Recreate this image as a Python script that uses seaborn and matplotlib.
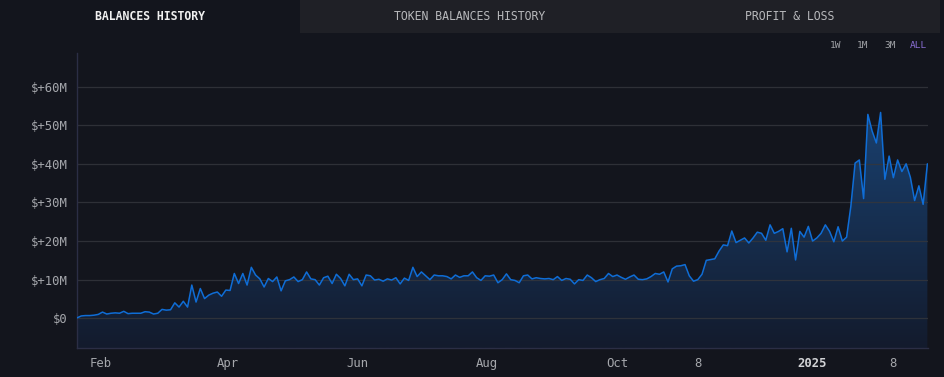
import numpy as np
import pandas as pd
import matplotlib
matplotlib.use('Agg')
import matplotlib.pyplot as plt
from matplotlib.colors import LinearSegmentedColormap
from matplotlib.patches import Rectangle
import seaborn as sns

# Balance in $M, one reading every 2 days starting 2024-01-21
start_date = '2024-01-21'
bal_jan_mar = [0.1, 0.6, 0.7, 0.7, 0.8, 1.0, 1.6, 1.1, 1.3, 1.4,
               1.3, 1.8, 1.2, 1.3, 1.3, 1.3, 1.7, 1.6, 1.1, 1.3,
               2.3, 2.1, 2.2, 4.0, 2.9, 4.4, 2.9, 8.6, 4.2, 7.7]
bal_mar_may = [5.1, 6.0, 6.5, 6.8, 5.7, 7.3, 7.2, 11.6, 9.0, 11.6,
               8.6, 13.2, 11.2, 10.2, 8.1, 10.3, 9.5, 10.7, 7.1, 9.7,
               10.0, 10.7, 9.5, 10.0, 12.0, 10.2, 10.0, 8.6, 10.5, 10.9,
               9.0, 11.4, 10.3, 8.4, 11.4, 10.0]
bal_jun_aug = [10.2, 8.4, 11.2, 11.0, 9.9, 10.1, 9.6, 10.2, 9.9, 10.5,
               8.9, 10.4, 9.8, 13.2, 10.8, 12.0, 11.0, 10.0, 11.2, 11.0,
               11.0, 10.8, 10.2, 11.2, 10.6, 11.0, 11.0, 12.0, 10.5, 9.8,
               11.0, 10.9, 11.2, 9.2, 10.0]
bal_aug_nov = [11.5, 10.0, 9.8, 9.2, 11.0, 11.2, 10.2, 10.5, 10.3, 10.2,
               10.3, 10.0, 10.8, 9.8, 10.3, 10.1, 8.9, 10.0, 9.8, 11.2,
               10.5, 9.5, 10.0, 10.3, 11.6, 10.8, 11.2, 10.6, 10.1, 10.7,
               11.2, 10.1, 10.0, 10.2, 10.8, 11.6, 11.4, 12.0, 9.4, 12.8,
               13.5, 13.6, 13.9, 11.0, 9.6, 10.0, 11.4]
bal_nov_jan = [15.0, 15.2, 15.4, 17.4, 19.0, 18.8, 22.6, 19.6, 20.2, 20.8,
               19.5, 20.8, 22.3, 22.0, 20.2, 24.2, 22.0, 22.5, 23.2, 17.2,
               23.3, 15.1, 22.5, 21.0, 23.8, 20.0, 20.8, 22.0, 24.2, 22.5,
               19.8, 23.7]
bal_jan_feb = [20.0, 21.0, 29.0, 40.2, 41.0, 31.0, 52.8, 48.5, 45.4, 53.3,
               36.0, 42.0, 36.4, 41.0, 38.0, 40.0, 36.5, 30.5, 34.3, 29.5,
               40.0]

y_ticks = [0, 10, 20, 30, 40, 50, 60]
x_tick_dates = ['2024-02-01', '2024-04-01', '2024-06-01', '2024-08-01',
                '2024-10-01', '2024-11-08', '2025-01-01', '2025-02-08']
x_tick_labels = ['Feb', 'Apr', 'Jun', 'Aug', 'Oct', '8', '2025', '8']
tabs = ['BALANCES HISTORY', 'TOKEN BALANCES HISTORY', 'PROFIT & LOSS']
ranges = ['1W', '1M', '3M', 'ALL']

balance = bal_jan_mar + bal_mar_may + bal_jun_aug + bal_aug_nov + bal_nov_jan + bal_jan_feb
df = pd.DataFrame({'date': pd.date_range(start_date, periods=len(balance), freq='2D'),
                   'balance': balance})

BG = '#13151d'
TAB_BG = '#1f2026'
LINE = '#0f6dd6'
GRID = '#34363c'
SPINE = '#2b2e45'
TXT = '#a5a7ac'

sns.set_theme(style='dark', rc={'axes.facecolor': BG, 'figure.facecolor': BG})
plt.rcParams['font.family'] = ['DejaVu Sans Mono']

W, H = 945, 377
fig = plt.figure(figsize=(W / 100, H / 100), dpi=100, facecolor=BG)
ax = fig.add_axes([77 / W, 1 - 348 / H, (928 - 77) / W, (348 - 53) / H])

ymin, ymax = -7.7, 68.7
xmin = pd.Timestamp(start_date)
xmax = pd.Timestamp('2025-02-24 07:00')

sns.lineplot(data=df, x='date', y='balance', color=LINE, linewidth=1.1, ax=ax, zorder=3)

# gradient fill under the line
poly = ax.fill_between(df['date'], df['balance'], ymin, facecolor='none', edgecolor='none')
grad = np.linspace(1, 0, 256).reshape(-1, 1)
cmap = LinearSegmentedColormap.from_list('fill', ['#131b2d', '#1b4a80'])
x0, x1 = matplotlib.dates.date2num(xmin), matplotlib.dates.date2num(xmax)
im = ax.imshow(grad, extent=[x0, x1, ymin, ymax], aspect='auto', cmap=cmap,
               origin='upper', zorder=0.5)
im.set_clip_path(poly.get_paths()[0], transform=ax.transData)

ax.set_xlim(xmin, xmax)
ax.set_ylim(ymin, ymax)
ax.set_axisbelow('line')
ax.yaxis.grid(True, color=GRID, linewidth=0.9, alpha=0.85)
ax.xaxis.grid(False)

ax.set_yticks(y_ticks)
ax.set_yticklabels(['$0' if v == 0 else f'$+{v}M' for v in y_ticks])
ax.set_xticks(pd.to_datetime(x_tick_dates))
ax.set_xticklabels(x_tick_labels)
ax.tick_params(axis='both', length=0, labelsize=8.8, labelcolor=TXT)
ax.tick_params(axis='y', pad=7)
ax.tick_params(axis='x', pad=6.5)
for lbl in ax.get_xticklabels():
    if lbl.get_text() == '2025':
        lbl.set_fontweight('bold')
        lbl.set_color('#d2d3d6')
ax.set_xlabel('')
ax.set_ylabel('')

for side in ['top', 'right']:
    ax.spines[side].set_visible(False)
for side in ['left', 'bottom']:
    ax.spines[side].set_visible(True)
    ax.spines[side].set_color(SPINE)
    ax.spines[side].set_linewidth(1)

# tab bar
fig.patches.append(Rectangle((300 / W, 1 - 33 / H), 640 / W, 33 / H,
                             transform=fig.transFigure, facecolor=TAB_BG,
                             edgecolor='none', zorder=0))
tab_x = [150, 470, 790]
for i, (t, x) in enumerate(zip(tabs, tab_x)):
    fig.text(x / W, 1 - 17 / H, t, ha='center', va='center', fontsize=8.3,
             color='#f0f0f0' if i == 0 else '#b8b9bc',
             fontweight='semibold' if i == 0 else 'normal')

range_x = [836, 863, 890, 918]
for r, x in zip(ranges, range_x):
    fig.text(x / W, 1 - 46 / H, r, ha='center', va='center', fontsize=6.8,
             color='#8b6fd6' if r == 'ALL' else '#a0a2a7')

fig.savefig('out.png', dpi=100, facecolor=BG)
